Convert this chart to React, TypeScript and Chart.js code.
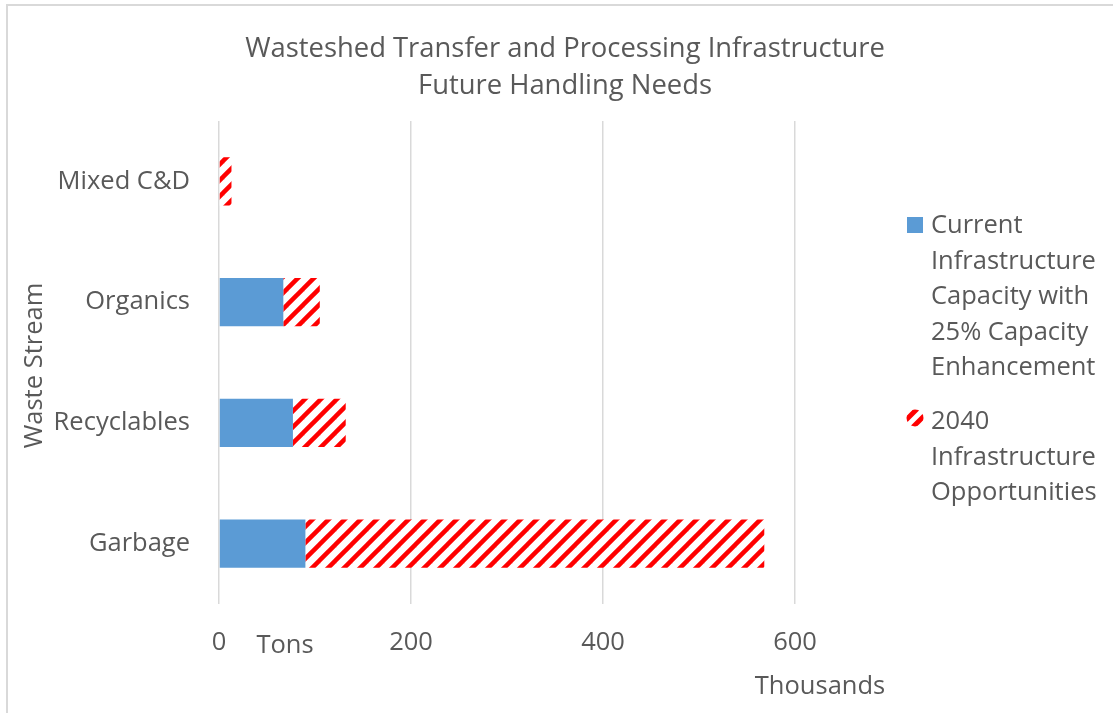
import { useEffect, useRef } from "react";
import { Chart, registerables } from "chart.js";

Chart.register(...registerables);

// Waste streams, top to bottom
const categories = ["Mixed C&D", "Organics", "Recyclables", "Garbage"];
// Thousands of tons
const currentCapacity = [0, 67, 77, 90];
const opportunities2040 = [13, 38, 55, 478];
const xTickValues = [0, 200, 400, 600];

const seriesNames = [
  "Current Infrastructure Capacity with 25% Capacity Enhancement",
  "2040 Infrastructure Opportunities",
];
const legendLines = [
  ["Current", "Infrastructure", "Capacity with", "25% Capacity", "Enhancement"],
  ["2040", "Infrastructure", "Opportunities"],
];
const titleLines = [
  "Wasteshed Transfer and Processing Infrastructure",
  "Future Handling Needs",
];

const TEXT = "#595959";
const GRID = "#d9d9d9";
const BLUE = "#5b9bd5";
const RED = "#ff0000";
const FONT = "'Open Sans', 'DejaVu Sans', sans-serif";
const LABEL_SIZE = 25.5;
const TITLE_SIZE = 27.4;

function makeHatch(ctx: CanvasRenderingContext2D): CanvasPattern {
  const c = document.createElement("canvas");
  c.width = 16;
  c.height = 16;
  const g = c.getContext("2d")!;
  g.fillStyle = "#ffffff";
  g.fillRect(0, 0, 16, 16);
  g.strokeStyle = RED;
  g.lineWidth = 4.5;
  for (const k of [-16, 0, 16]) {
    g.beginPath();
    g.moveTo(k - 2, 18);
    g.lineTo(k + 18, -2);
    g.stroke();
  }
  return ctx.createPattern(c, "repeat")!;
}

// round hatched swatch with two diagonal stripes
function drawHatchSwatch(ctx: CanvasRenderingContext2D, cx: number, cy: number, r: number) {
  ctx.save();
  ctx.beginPath();
  ctx.arc(cx, cy, r, 0, Math.PI * 2);
  ctx.clip();
  ctx.fillStyle = "#ffffff";
  ctx.fillRect(cx - r, cy - r, 2 * r, 2 * r);
  ctx.strokeStyle = RED;
  ctx.lineWidth = 5;
  for (const off of [-7, 7]) {
    ctx.beginPath();
    ctx.moveTo(cx - r - 2 + off, cy + r + 2);
    ctx.lineTo(cx + r + 2 + off, cy - r - 2);
    ctx.stroke();
  }
  ctx.restore();
}

const decorations = {
  id: "decorations",
  beforeDraw(chart: Chart) {
    const { ctx, width, height } = chart;
    ctx.save();
    ctx.strokeStyle = GRID;
    ctx.lineWidth = 2;
    ctx.beginPath();
    ctx.moveTo(7, height);
    ctx.lineTo(7, 5);
    ctx.lineTo(width, 5);
    ctx.stroke();
    ctx.restore();
  },
  afterDraw(chart: Chart) {
    const { ctx, chartArea } = chart;
    ctx.save();
    ctx.fillStyle = TEXT;
    ctx.textBaseline = "alphabetic";

    // title
    ctx.font = `${TITLE_SIZE}px ${FONT}`;
    ctx.textAlign = "center";
    titleLines.forEach((line, i) => ctx.fillText(line, 565, 57 + i * 37));

    // axis titles
    ctx.font = `${LABEL_SIZE}px ${FONT}`;
    ctx.fillText("Tons", 285, 653);
    ctx.fillText("Thousands", 820, 694);
    ctx.save();
    ctx.translate(42, (chartArea.top + chartArea.bottom) / 2 + 3);
    ctx.rotate(-Math.PI / 2);
    ctx.fillText("Waste Stream", 0, 0);
    ctx.restore();

    // legend
    ctx.textAlign = "left";
    const lh = 35.5;
    legendLines[0].forEach((t, i) => ctx.fillText(t, 931, 233 + i * lh));
    ctx.fillStyle = BLUE;
    ctx.fillRect(907, 217, 16, 16);
    ctx.fillStyle = TEXT;
    legendLines[1].forEach((t, i) => ctx.fillText(t, 931, 429 + i * lh));
    drawHatchSwatch(ctx, 915, 418, 8.5);

    ctx.restore();
  },
};

export default function App() {
  const ref = useRef<HTMLCanvasElement | null>(null);

  useEffect(() => {
    const canvas = ref.current!;
    const ctx = canvas.getContext("2d")!;
    const hatch = makeHatch(ctx);
    const chart = new Chart(canvas, {
      type: "bar",
      data: {
        labels: categories,
        datasets: [
          {
            label: seriesNames[0],
            data: currentCapacity,
            backgroundColor: BLUE,
            borderWidth: 0,
          },
          {
            label: seriesNames[1],
            data: opportunities2040,
            backgroundColor: hatch,
            borderWidth: 0,
          },
        ],
      },
      options: {
        indexAxis: "y",
        responsive: false,
        animation: false,
        events: [],
        layout: { padding: { top: 121, right: 318, left: 0, bottom: 0 } },
        datasets: { bar: { categoryPercentage: 1, barPercentage: 0.4 } },
        plugins: {
          legend: { display: false },
          title: { display: false },
          tooltip: { enabled: false },
        },
        scales: {
          x: {
            stacked: true,
            min: 0,
            max: 600,
            afterFit(scale: any) {
              scale.height = 109;
            },
            afterBuildTicks(scale: any) {
              scale.ticks = xTickValues.map((v) => ({ value: v }));
            },
            ticks: {
              color: TEXT,
              font: { size: LABEL_SIZE, family: FONT },
              padding: 23,
              maxRotation: 0,
            },
            grid: { color: GRID, lineWidth: 1.5, drawTicks: false },
            border: { display: false },
          },
          y: {
            stacked: true,
            afterFit(scale: any) {
              scale.width = 219;
            },
            ticks: {
              color: TEXT,
              font: { size: LABEL_SIZE, family: FONT },
              padding: 29,
            },
            grid: { display: false, drawTicks: false },
            border: { display: false },
          },
        },
      },
      plugins: [decorations],
    });
    return () => chart.destroy();
  }, []);

  return (
    <div style={{ position: "absolute", left: 0, top: 0, width: 1113, height: 713, background: "#fff" }}>
      <canvas ref={ref} width={1113} height={713} style={{ display: "block" }} />
    </div>
  );
}
